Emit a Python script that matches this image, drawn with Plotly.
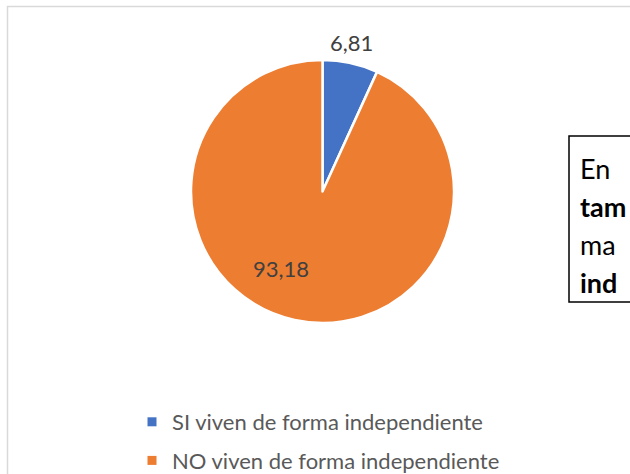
import plotly.graph_objects as go

categories = ["SI viven de forma independiente", "NO viven de forma independiente"]
values = [6.81, 93.18]
colors = ["#4472C4", "#ED7D31"]
box_lines = ["En", "<b>tam</b>", "ma", "<b>ind</b>"]

# figure is slightly taller than the 474 px window so the legend can sit low
W, H = 630, 482
FONT = "Lato, 'Open Sans', sans-serif"

def fmt(v):
    return f"{v:.2f}".replace(".", ",")

def px(x):
    return x / W

def py(y):
    return 1 - y / H

fig = go.Figure()

fig.add_trace(go.Pie(
    labels=categories,
    values=values,
    marker=dict(colors=colors, line=dict(color="white", width=2.5)),
    sort=False,
    direction="clockwise",
    rotation=0,
    textinfo="none",
    hoverinfo="label+value",
    showlegend=False,
    domain=dict(x=[px(191), px(454)], y=[py(323), py(60)]),
))

# legend entries
for i, (c, col) in enumerate(zip(categories, colors)):
    fig.add_trace(go.Scatter(
        x=[None], y=[None], mode="markers",
        marker=dict(symbol="square", size=9, color=col),
        name=c, legendgroup=f"g{i}", showlegend=True,
    ))

label_pos = [(351, 42), (281, 268)]
for v, (lx, ly) in zip(values, label_pos):
    fig.add_annotation(
        x=px(lx), y=py(ly), xref="paper", yref="paper",
        text=fmt(v), showarrow=False,
        font=dict(family=FONT, size=22, color="#404040"),
        xanchor="center", yanchor="middle",
    )

# chart area border
fig.add_shape(type="rect", xref="paper", yref="paper",
              x0=px(7.5), x1=1.05, y0=-0.05, y1=py(6.5),
              line=dict(color="#D9D9D9", width=1.5), fillcolor="rgba(0,0,0,0)")

# text box
fig.add_shape(type="rect", xref="paper", yref="paper",
              x0=px(569), x1=1.1, y0=py(302), y1=py(136),
              line=dict(color="#000000", width=1.5), fillcolor="white")
for i, t in enumerate(box_lines):
    fig.add_annotation(
        x=px(578), y=py(168 + 38 * i), xref="paper", yref="paper",
        text=t, showarrow=False, xanchor="left", yanchor="middle",
        font=dict(family=FONT, size=27, color="#000000"),
    )

fig.update_layout(
    width=W, height=H, autosize=False,
    margin=dict(l=0, r=0, t=0, b=0),
    paper_bgcolor="white", plot_bgcolor="white",
    xaxis=dict(visible=False), yaxis=dict(visible=False),
    legend=dict(
        x=px(132), y=0.0, xanchor="left", yanchor="bottom",
        font=dict(family=FONT, size=22, color="#595959"),
        tracegroupgap=7, bgcolor="rgba(0,0,0,0)",
        itemclick=False,
    ),
)

fig.write_html("out.html", config={"displayModeBar": False})
with open("out.html", "r", encoding="utf-8") as f:
    html = f.read()
html = html.replace("<head>", "<head><style>html,body{margin:0;padding:0;overflow:hidden;}</style>", 1)
with open("out.html", "w", encoding="utf-8") as f:
    f.write(html)
